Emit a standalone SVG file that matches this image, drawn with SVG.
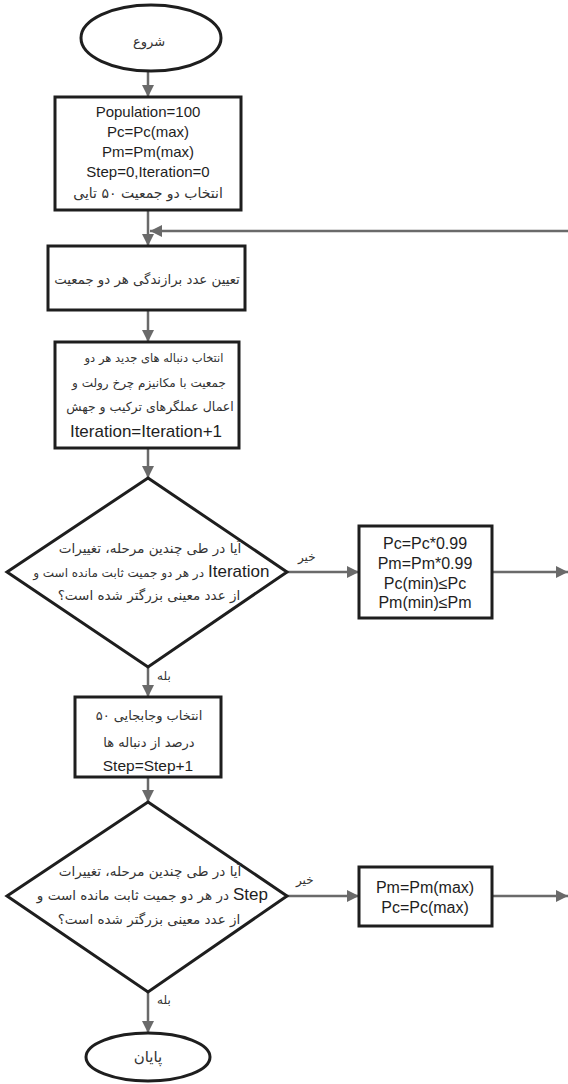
<svg xmlns="http://www.w3.org/2000/svg" width="568" height="1084" viewBox="0 0 568 1084">
<style>
.shape{fill:#fff;stroke:#1e1e1e;stroke-width:3}
.con{fill:none;stroke:#6a6a6a;stroke-width:2.5}
.en{font-family:"Liberation Sans",Arial,sans-serif;font-size:15px;fill:#1e1e1e;text-anchor:middle}
.fa{font-family:"DejaVu Sans",sans-serif;font-size:13.5px;fill:#333;text-anchor:middle}
.lbl{font-family:"DejaVu Sans",sans-serif;font-size:12px;fill:#333}
</style>
<defs>
<marker id="ah" markerUnits="userSpaceOnUse" markerWidth="13" markerHeight="13" refX="12" refY="6" orient="auto">
<path d="M0,0 L12,6 L0,12 z" fill="#6a6a6a"/>
</marker>
</defs>
<rect width="568" height="1084" fill="#fff"/>
<g id="connectors">
<line class="con" x1="148" y1="71" x2="148" y2="97" marker-end="url(#ah)"/>
<line class="con" x1="148" y1="210" x2="148" y2="246" marker-end="url(#ah)"/>
<line class="con" x1="568" y1="231" x2="150" y2="231" marker-end="url(#ah)"/>
<line class="con" x1="148" y1="310" x2="148" y2="342" marker-end="url(#ah)"/>
<line class="con" x1="148" y1="448" x2="148" y2="478" marker-end="url(#ah)"/>
<line class="con" x1="287" y1="572" x2="359" y2="572" marker-end="url(#ah)"/>
<line class="con" x1="492" y1="572" x2="568" y2="572" marker-end="url(#ah)"/>
<line class="con" x1="148" y1="667" x2="148" y2="697" marker-end="url(#ah)"/>
<line class="con" x1="148" y1="777" x2="148" y2="802" marker-end="url(#ah)"/>
<line class="con" x1="287" y1="896" x2="359" y2="896" marker-end="url(#ah)"/>
<line class="con" x1="492" y1="896" x2="568" y2="896" marker-end="url(#ah)"/>
<line class="con" x1="148" y1="992" x2="148" y2="1033" marker-end="url(#ah)"/>
<text class="lbl" x="298" y="561">خیر</text>
<text class="lbl" x="296" y="884">خیر</text>
<text class="lbl" x="157" y="680">بله</text>
<text class="lbl" x="157" y="1004">بله</text>
</g>
<g id="start">
<ellipse class="shape" cx="151" cy="38" rx="70" ry="33"/>
<text class="fa" x="149" y="46" style="font-size:13px">شروع</text>
</g>
<g id="init">
<rect class="shape" x="55" y="97" width="186" height="113"/>
<text class="en" x="148" y="117">Population=100</text>
<text class="en" x="148" y="137">Pc=Pc(max)</text>
<text class="en" x="148" y="157">Pm=Pm(max)</text>
<text class="en" x="148" y="177">Step=0,Iteration=0</text>
<text class="fa" x="148" y="198" style="font-size:14px">انتخاب دو جمعیت ۵۰ تایی</text>
</g>
<g id="fitness">
<rect class="shape" x="48" y="246" width="197" height="64"/>
<text class="fa" x="147" y="284" style="font-size:13.3px">تعیین عدد برازندگی هر دو جمعیت</text>
</g>
<g id="select">
<rect class="shape" x="55" y="342" width="184" height="106"/>
<text class="fa" x="154" y="362" style="font-size:11.5px">انتخاب دنباله های جدید هر دو</text>
<text class="fa" x="149" y="387" style="font-size:12px">جمعیت با مکانیزم چرخ رولت و</text>
<text class="fa" x="150" y="411" style="font-size:12.5px">اعمال عملگرهای ترکیب و جهش</text>
<text class="en" x="146" y="437" style="font-size:17px">Iteration=Iteration+1</text>
</g>
<g id="decision1">
<polygon class="shape" points="148,478 287,572 148,667 7,572"/>
<text class="fa" x="150" y="553">آیا در طی چندین مرحله، تغییرات</text>
<text class="fa" x="204" y="577" style="text-anchor:end;font-size:12px">در هر دو جمیت ثابت مانده است و</text>
<text class="en" x="208" y="577" style="font-size:17px;text-anchor:start">Iteration</text>
<text class="fa" x="149" y="600">از عدد معینی بزرگتر شده است؟</text>
</g>
<g id="update">
<rect class="shape" x="359" y="526" width="133" height="92"/>
<text class="en" x="425" y="549" style="font-size:16px">Pc=Pc*0.99</text>
<text class="en" x="425" y="569" style="font-size:16px">Pm=Pm*0.99</text>
<text class="en" x="425" y="589" style="font-size:16px">Pc(min)≤Pc</text>
<text class="en" x="425" y="608" style="font-size:16px">Pm(min)≤Pm</text>
</g>
<g id="swap">
<rect class="shape" x="75" y="697" width="146" height="80"/>
<text class="fa" x="149" y="720" style="font-size:13px">انتخاب وجابجایی ۵۰</text>
<text class="fa" x="149" y="747" style="font-size:13px">درصد از دنباله ها</text>
<text class="en" x="148" y="771" style="font-size:15.5px">Step=Step+1</text>
</g>
<g id="decision2">
<polygon class="shape" points="148,802 287,896 148,992 7,896"/>
<text class="fa" x="150" y="876">آیا در طی چندین مرحله، تغییرات</text>
<text class="fa" x="229" y="900" style="text-anchor:end">در هر دو جمیت ثابت مانده است و</text>
<text class="en" x="233" y="900" style="font-size:17px;text-anchor:start">Step</text>
<text class="fa" x="149" y="924">از عدد معینی بزرگتر شده است؟</text>
</g>
<g id="reset">
<rect class="shape" x="359" y="867" width="133" height="59"/>
<text class="en" x="425" y="893" style="font-size:16px">Pm=Pm(max)</text>
<text class="en" x="425" y="913" style="font-size:16px">Pc=Pc(max)</text>
</g>
<g id="end">
<ellipse class="shape" cx="148" cy="1057" rx="62" ry="24"/>
<text class="fa" x="148" y="1062" style="font-size:15px">پایان</text>
</g>
</svg>
